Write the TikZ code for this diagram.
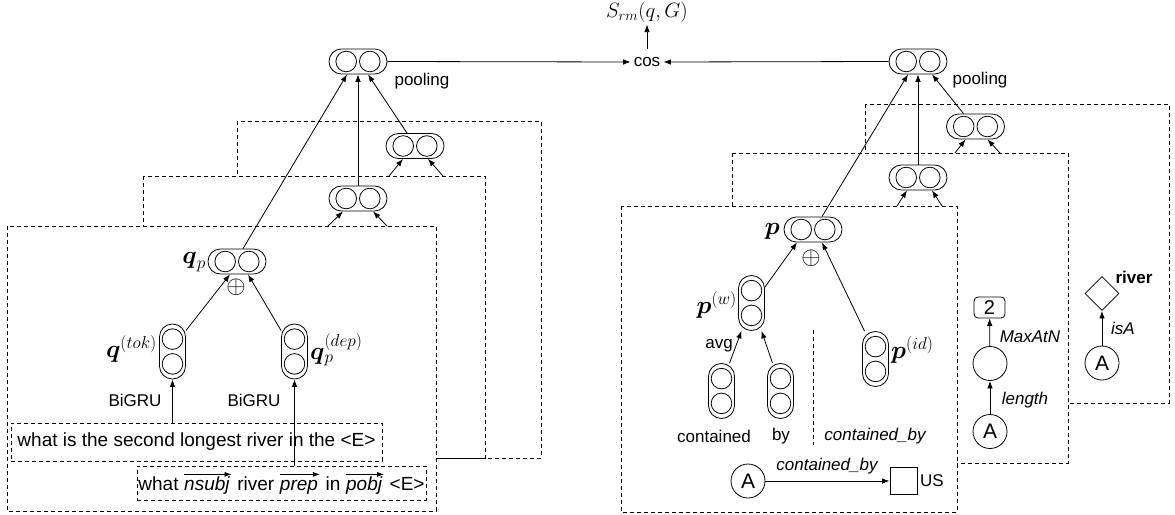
\documentclass[tikz,border=0pt]{standalone}
\usepackage{fontspec}
\setmainfont{Liberation Sans}
\usepackage{amsmath}
\usetikzlibrary{arrows.meta,shapes.geometric}
\newcommand{\ovr}[1]{\tikz[baseline=(ovw.base)]{\node[draw=none,fill=none,minimum width=0pt,minimum height=0pt,inner sep=0pt,outer sep=0pt,font=\fontsize{19}{22}\selectfont\itshape] (ovw) {#1\vphantom{Ab}}; \draw[solid,line width=0.8pt,-{Latex[length=7pt,width=5pt]}] ([yshift=2pt]ovw.north west) -- ([yshift=2pt,xshift=2pt]ovw.north east);}}
\tikzset{
  lw/.style={line width=0.8pt},
  arr/.style={line width=0.8pt,-{Latex[length=7.5pt,width=5.5pt]}},
  frame/.style={draw,dash pattern=on 4pt off 3pt,line width=0.8pt,fill=white},
  hvec/.style={draw,fill=white,line width=0.8pt,rounded corners=12.4pt,minimum width=58pt,minimum height=25pt,inner sep=0pt,
    path picture={\draw[line width=0.8pt] ([xshift=-11.8pt]path picture bounding box.center) circle[radius=10.3pt];
                  \draw[line width=0.8pt] ([xshift=11.8pt]path picture bounding box.center) circle[radius=10.3pt];}},
  vvec/.style={draw,fill=white,line width=0.8pt,rounded corners=12.9pt,minimum width=26pt,minimum height=55pt,inner sep=0pt,
    path picture={\draw[line width=0.8pt] ([yshift=12.4pt]path picture bounding box.center) circle[radius=10.3pt];
                  \draw[line width=0.8pt] ([yshift=-12.4pt]path picture bounding box.center) circle[radius=10.3pt];}},
  lbl/.style={font=\fontsize{17}{20}\selectfont,inner sep=1pt},
  ilbl/.style={font=\fontsize{17}{20}\selectfont\itshape,inner sep=1pt},
  mlbl/.style={font=\fontsize{26}{30}\selectfont,inner sep=1pt},
  circ/.style={circle,draw,line width=0.8pt,minimum size=34pt,inner sep=0pt,font=\fontsize{21}{24}\selectfont},
  sbox/.style={draw,dash pattern=on 4pt off 3pt,line width=0.8pt,fill=white,inner sep=0pt,font=\fontsize{19}{22}\selectfont},
  oplusnode/.style={inner sep=0pt,font=\fontsize{26}{28}\selectfont}
}
\begin{document}
\begin{tikzpicture}[x=1pt,y=-1pt]
\useasboundingbox (0,0) rectangle (1175,514);
% ---------- frames
\draw[frame] (237,121) rectangle (541,458);
\draw[frame] (143,176) rectangle (485,458);
\draw[frame] (7,226) rectangle (436,511);
\draw[frame] (865,104) rectangle (1169,403);
\draw[frame] (732,153) rectangle (1068,463);
\draw[frame] (621,206) rectangle (957,512);
% ---------- top
\node[hvec] (poolL) at (358,61.5) {};
\node[lbl] (poolLt) at (422,81) {pooling};
\node[lbl,minimum height=26pt,inner sep=3pt] (cos) at (647,62) {cos};
\node[inner sep=2pt,font=\fontsize{20}{24}\selectfont] (srm) at (647,12) {$S_{rm}(q,G)$};
\node[hvec] (poolR) at (918,61.5) {};
\node[lbl] (poolRt) at (980,80) {pooling};
\draw[arr] (poolL.east) -- (cos.west);
\draw[arr] (poolR.west) -- (cos.east);
\draw[arr] (cos.north) -- (srm.south);
% ---------- left side
\node[hvec] (backL) at (415,146) {};
\node[hvec] (midL) at (358,198.5) {};
\node[hvec] (qp) at (237,261.5) {};
\node[mlbl,anchor=east] (qpl) at (207,262) {$\boldsymbol{q}_p$};
\node[oplusnode] (oplusL) at (236,287) {$\oplus$};
\node[vvec] (qtok) at (172.5,351.5) {};
\node[mlbl,anchor=east] (qtokl) at (158,349) {$\boldsymbol{q}^{(tok)}$};
\node[vvec] (qdep) at (294.5,351.5) {};
\node[mlbl,anchor=west] (qdepl) at (309,350) {$\boldsymbol{q}_p^{(dep)}$};
\node[lbl] (bigru1) at (135,400) {BiGRU};
\node[lbl] (bigru2) at (254,400) {BiGRU};
\node[sbox,minimum width=371pt,minimum height=38pt] (sent1) at (196.5,442) {what is the second longest river in the <E>};
\node[sbox,minimum width=289pt,minimum height=34pt] (sent2) at (281.5,483) {what \ovr{nsubj} river \ovr{prep} in \ovr{pobj} <E>};
\coordinate (fm1) at (328,226);
\coordinate (fm2) at (387,226);
\coordinate (fb1) at (389,176);
\coordinate (fb2) at (443,176);
\draw[arr] (qtok.south |- sent1.north) -- (qtok.south);
\draw[arr] (qdep.south |- sent2.north) -- (qdep.south);
\draw[arr] ([yshift=-7pt]qtok.north east) -- ([xshift=-7pt]qp.south);
\draw[arr] ([yshift=-7pt]qdep.north west) -- ([xshift=11pt]qp.south);
\draw[arr] ([xshift=6pt]qp.north) -- ([xshift=-11pt]poolL.south);
\draw[arr] (midL.north) -- (poolL.south);
\draw[arr] ([xshift=-8pt]backL.north) -- ([xshift=10pt]poolL.south);
\draw[arr] (fm1) -- ([xshift=-15pt]midL.south);
\draw[arr] (fm2) -- ([xshift=15pt]midL.south);
\draw[arr] (fb1) -- ([xshift=-12pt]backL.south);
\draw[arr] (fb2) -- ([xshift=13pt]backL.south);
% ---------- right side
\node[hvec] (backR) at (975.5,126.5) {};
\node[hvec] (midR) at (918,177.5) {};
\node[hvec] (p) at (813,229.5) {};
\node[mlbl,anchor=east] (pl) at (781,231) {$\boldsymbol{p}$};
\node[oplusnode] (oplusR) at (811,258) {$\oplus$};
\node[vvec] (pw) at (751.5,303) {};
\node[mlbl,anchor=east] (pwl) at (738,305) {$\boldsymbol{p}^{(w)}$};
\node[lbl] (avg) at (719,346) {avg};
\node[vvec] (cont) at (721.5,391) {};
\node[vvec] (by) at (780.5,391) {};
\node[lbl] (contt) at (714,436) {contained};
\node[lbl] (byt) at (781,436) {by};
\node[vvec] (pid) at (875.5,359) {};
\node[mlbl,anchor=west] (pidl) at (890,350) {$\boldsymbol{p}^{(id)}$};
\node[ilbl] (cbt) at (875,436) {contained\_by};
\coordinate (sepT) at (813,330);
\coordinate (sepB) at (813,445);
\draw[dash pattern=on 4pt off 3pt,line width=0.8pt] (sepT) -- (sepB);
\node[circ] (A1) at (748,481) {A};
\node[draw,line width=0.8pt,minimum size=27pt,inner sep=0pt] (US) at (903.5,481) {};
\node[lbl,anchor=west] (USt) at (919,481) {US};
\draw[arr] (A1) -- (US);
\node[ilbl] (cbl) at (827,466) {contained\_by};
\coordinate (gm1) at (897,206);
\coordinate (gm2) at (942,206);
\coordinate (gb1) at (955,153);
\coordinate (gb2) at (1000,153);
\draw[arr] ([xshift=8pt]cont.north) -- ([xshift=-10pt]pw.south);
\draw[arr] ([xshift=-8pt]by.north) -- ([xshift=10pt]pw.south);
\draw[arr] ([yshift=-12pt]pw.north east) -- ([xshift=-16pt]p.south);
\draw[arr] ([xshift=-11pt]pid.north) -- ([xshift=9pt]p.south);
\draw[arr] ([xshift=9pt]p.north) -- ([xshift=-10pt]poolR.south);
\draw[arr] (midR.north) -- (poolR.south);
\draw[arr] ([xshift=-12pt]backR.north) -- ([xshift=14pt]poolR.south);
\draw[arr] (gm1) -- ([xshift=-11pt]midR.south);
\draw[arr] (gm2) -- ([xshift=14pt]midR.south);
\draw[arr] (gb1) -- ([xshift=-10pt]backR.south);
\draw[arr] (gb2) -- ([xshift=12pt]backR.south);
% mid right frame
\node[draw,line width=0.8pt,rounded corners=4pt,minimum width=31pt,minimum height=21pt,inner sep=0pt,font=\fontsize{20}{22}\selectfont] (two) at (989.5,307.5) {2};
\node[circ] (len) at (990,363.5) {};
\node[circ] (A2) at (990,431.5) {A};
\draw[arr] (A2) -- (len);
\draw[arr] (len) -- (two);
\node[ilbl] (maxt) at (1030,337) {MaxAtN};
\node[ilbl] (lent) at (1025,400) {length};
% back right frame
\node[diamond,draw,line width=0.8pt,minimum size=34pt,inner sep=0pt] (river) at (1102,293.5) {};
\node[lbl,font=\fontsize{17}{20}\selectfont\bfseries] (rivert) at (1134,277) {river};
\node[circ] (A3) at (1102,363) {A};
\draw[arr] (A3) -- (river);
\node[ilbl] (isat) at (1123,328) {isA};
\end{tikzpicture}
\end{document}
